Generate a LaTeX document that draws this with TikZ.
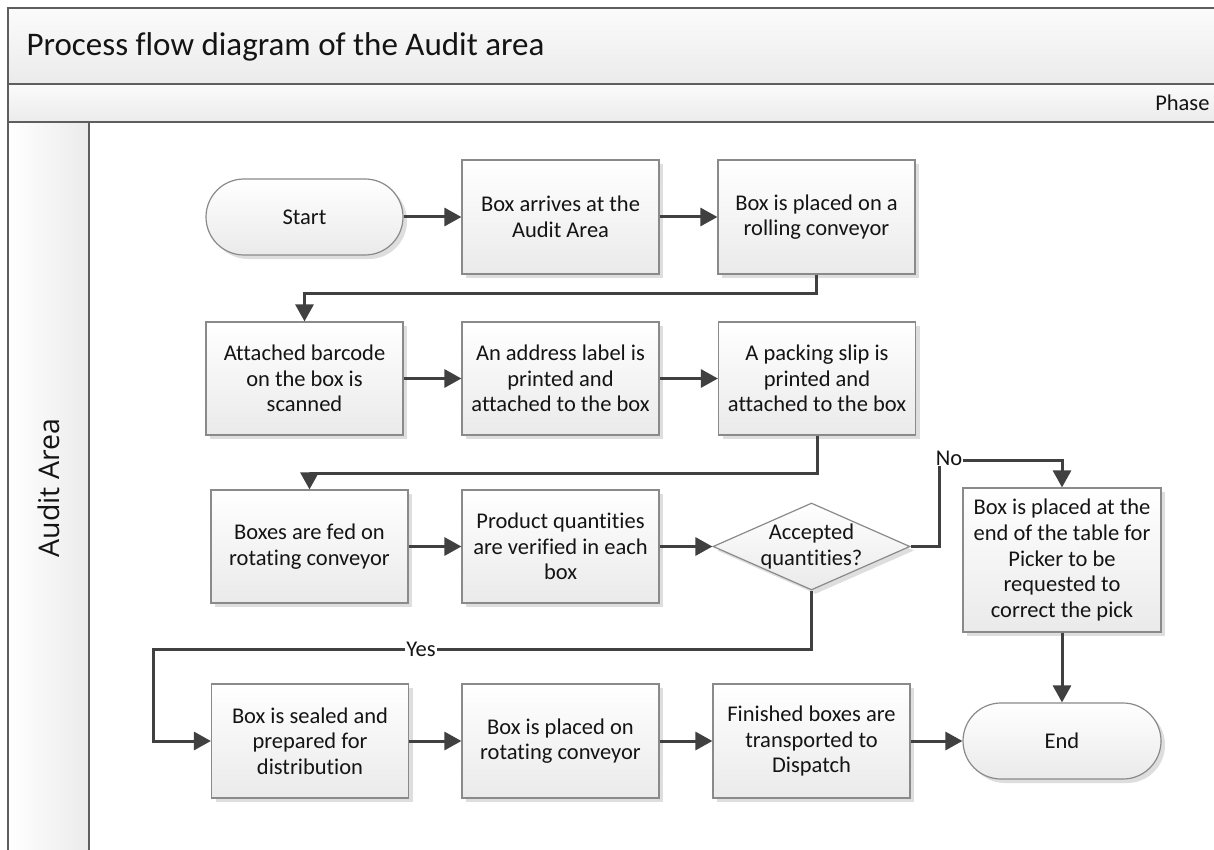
\documentclass[tikz,border=0pt]{standalone}
\usepackage{fontspec}
\setmainfont{Carlito}[Ligatures=NoCommon]
\newfontfamily\lanefont{Open Sans}
\usetikzlibrary{arrows.meta,shapes.geometric,shadows}
\definecolor{linegray}{HTML}{404040}
\definecolor{boxedge}{HTML}{8A8A8A}
\definecolor{frameedge}{HTML}{5E5E5E}
\definecolor{bandtop}{HTML}{FBFBFB}
\definecolor{bandbot}{HTML}{EBEBEB}
\definecolor{boxbot}{HTML}{EAEAEA}
\definecolor{shadowgray}{HTML}{DEDEDE}
\begin{document}
\begin{tikzpicture}[x=1pt,y=-1pt,
  every node/.style={font=\fontsize{22.5}{25.7}\selectfont, text=black!92},
  shapebase/.style={draw=boxedge, line width=1.2pt, top color=white, bottom color=boxbot,
    drop shadow={shadow xshift=4pt, shadow yshift=-4pt, fill=shadowgray, opacity=1}},
  process/.style={shapebase, rectangle, minimum width=197pt, minimum height=114pt, inner sep=0pt, align=center},
  terminal/.style={shapebase, rectangle, rounded corners=38pt, minimum width=197pt, minimum height=76pt},
  decision/.style={shapebase, diamond, minimum width=197pt, minimum height=87pt, inner sep=0pt},
  flow/.style={draw=linegray, line width=3pt, -{Triangle[length=17pt,width=18pt]}},
  branch/.style={fill=white, inner sep=1pt},
]
\clip (0,0) rectangle (1214,850);
\fill[white] (0,0) rectangle (1214,850);

% pool frame: title band, phase band, lane header and lane body
\path[draw=frameedge, line width=2pt, top color=bandtop, bottom color=bandbot] (8,8) rectangle (1240,84);
\path[draw=frameedge, line width=2pt, top color=bandtop, bottom color=bandbot] (8,84) rectangle (1240,122);
\path[draw=frameedge, line width=2pt, left color=white, right color=bandbot] (8,122) rectangle (89,880);
\draw[frameedge, line width=2pt] (89,122) rectangle (1240,880);

\node[anchor=west, font=\fontsize{33}{40}\selectfont] (title) at (23,47) {Process flow diagram of the Audit area};
\node[anchor=east] (phase) at (1213,103) {Phase};
\node[rotate=90, font=\lanefont\fontsize{28.5}{34}\selectfont] (lane) at (48.5,488) {Audit Area};

% row 1
\node[terminal] (start) at (304.5,217) {Start};
\node[process] (arrive) at (560.5,217) {Box arrives at the\\Audit Area};
\node[process] (rolling) at (816.5,217) {Box is placed on a\\rolling conveyor};
% row 2
\node[process, minimum height=113pt] (scan) at (304.5,378.5) {Attached barcode\\on the box is\\scanned};
\node[process, minimum height=113pt] (address) at (560.5,378.5) {An address label is\\printed and\\attached to the box};
\node[process, minimum height=113pt] (slip) at (817,378.5) {A packing slip is\\printed and\\attached to the box};
% row 3
\node[process, minimum height=113pt] (fed) at (309.5,546.5) {Boxes are fed on\\rotating conveyor};
\node[process, minimum height=113pt] (verify) at (560.5,546.5) {Product quantities\\are verified in each\\box};
\node[decision, label={[align=center]center:Accepted\\quantities?}] (accept) at (811.5,546.5) {};
\node[process, minimum width=198pt, minimum height=144pt] (correct) at (1062,560) {Box is placed at the\\end of the table for\\Picker to be\\requested to\\correct the pick};
% row 4
\node[process] (sealed) at (310,741) {Box is sealed and\\prepared for\\distribution};
\node[process] (rotating) at (560.5,741) {Box is placed on\\rotating conveyor};
\node[process] (finished) at (811.5,741) {Finished boxes are\\transported to\\Dispatch};
\node[terminal, minimum width=198pt] (end) at (1062,741) {End};

% connectors
\draw[flow] (start) -- (arrive);
\draw[flow] (arrive) -- (rolling);
\draw[flow] (rolling.south) -- ++(0,19) -| (scan.north);
\draw[flow] (scan) -- (address);
\draw[flow] (address) -- (slip);
\draw[flow] (slip.south) -- ++(0,38) -| (fed.north);
\draw[flow] (fed) -- (verify);
\draw[flow] (verify) -- (accept.west);

\coordinate (nocorner) at (939,460);
\draw[flow] (accept.east) -| (nocorner) -| (correct.north);
\node[branch] (no) at (949,458) {No};

\coordinate (yescorner) at (153,649);
\draw[flow] (accept.south) |- (yescorner) |- (sealed.west);
\node[branch] (yes) at (421,649) {Yes};

\draw[flow] (correct.south) -- (end.north);
\draw[flow] (sealed) -- (rotating);
\draw[flow] (rotating) -- (finished);
\draw[flow] (finished) -- (end.west);
\end{tikzpicture}
\end{document}
